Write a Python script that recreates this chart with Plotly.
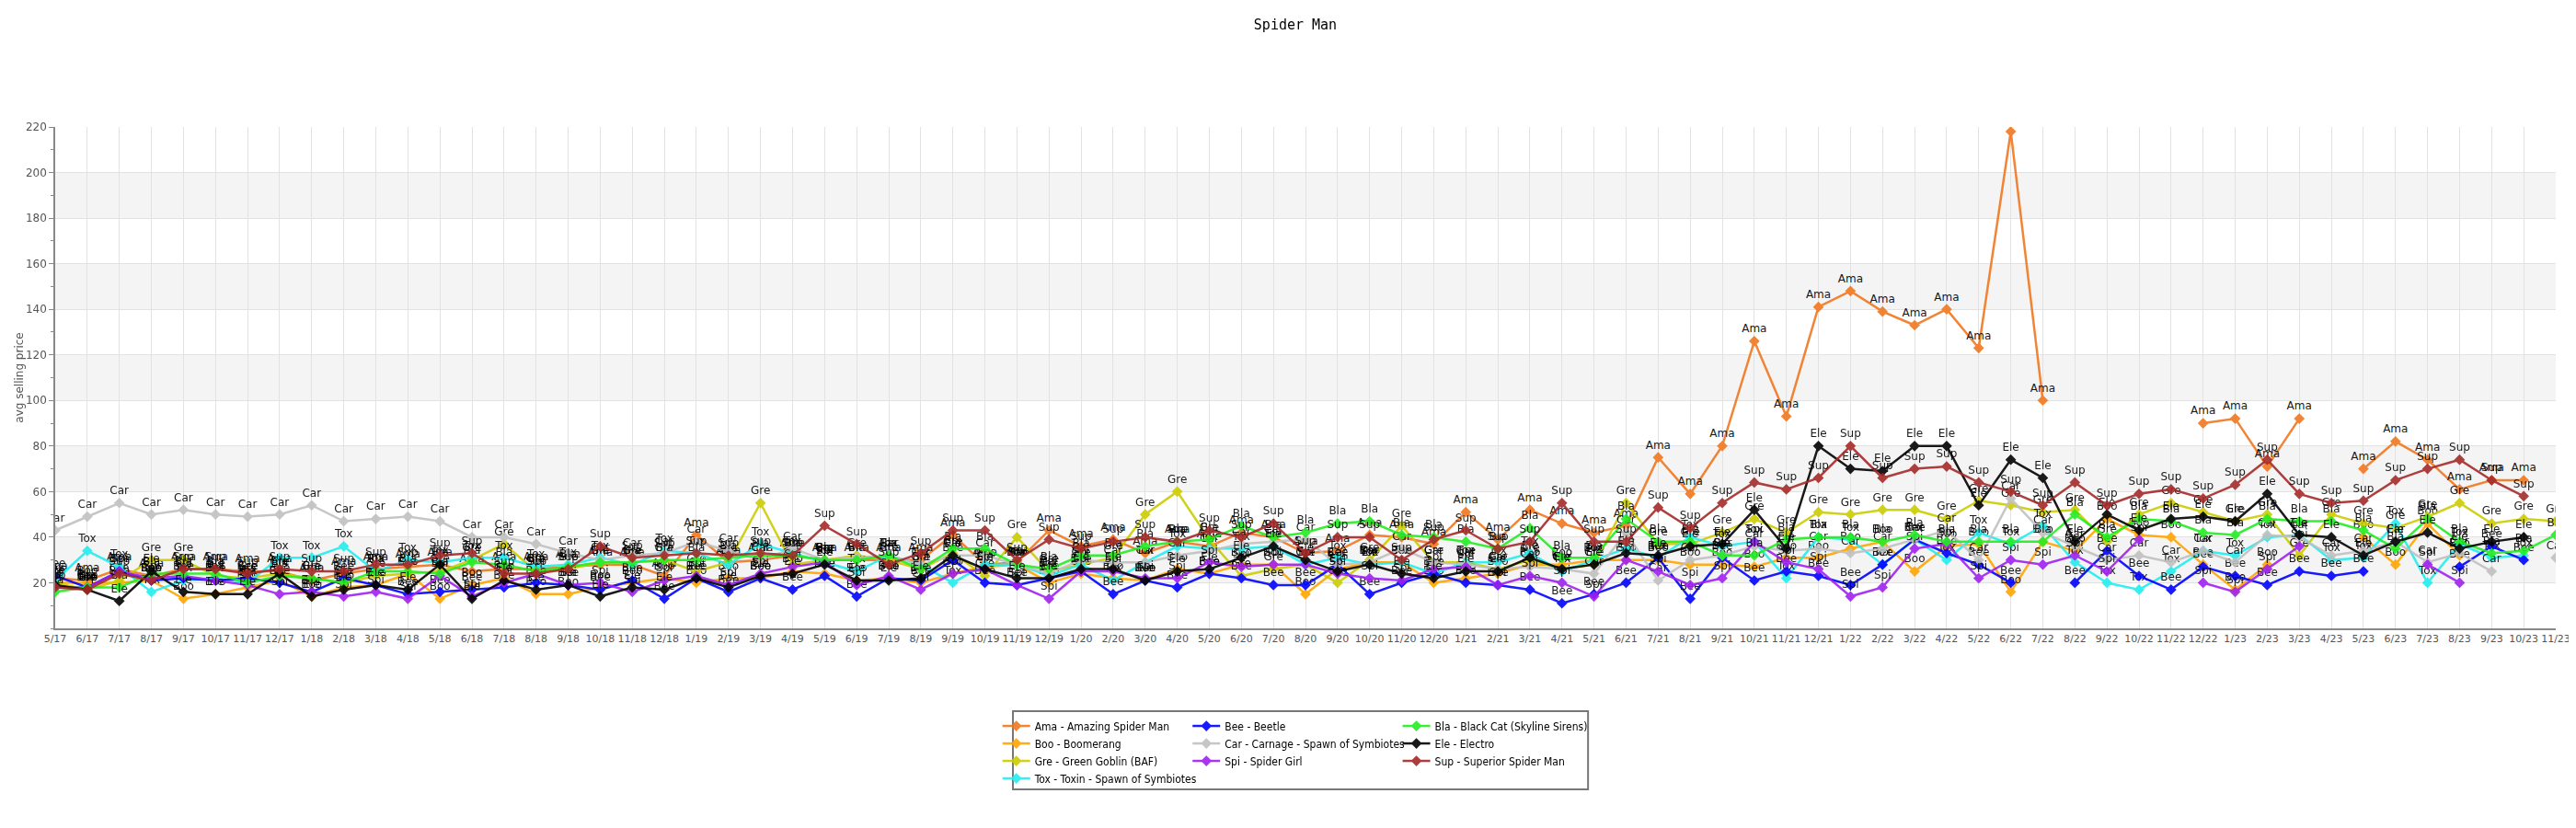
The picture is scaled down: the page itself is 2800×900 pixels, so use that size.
import plotly.graph_objects as go

months = []
for y in range(17, 24):
    for m in range(1, 13):
        if (y == 17 and m < 5) or (y == 23 and m > 11):
            continue
        months.append(f"{m}/{y}")

N = None
ama = [22,21,26,23,26,26,25,25,
       21,24,26,27,28,25,26,26,27,28,28,23,
       41,29,30,32,30,30,30,30,41,28,29,43,
       36,39,33,38,36,42,40,33,34,41,40,37,
       51,39,52,46,42,45,75,59,80,126,93,141,
       148,139,133,140,123,218,100,N,N,N,N,90,
       92,71,92,N,70,82,74,61,65,65,N]
bee = [23,18,25,21,22,21,22,20,
       16,22,19,15,16,17,18,20,19,17,21,13,
       22,16,22,17,23,14,22,21,30,20,19,22,
       25,15,21,18,24,22,19,19,28,15,20,24,
       20,19,17,11,15,20,31,13,31,21,25,23,
       19,28,39,33,28,20,N,20,34,23,17,27,
       23,19,25,23,25,N,N,27,36,30,N]
bla = [16,18,18,24,24,24,20,23,
       22,20,25,25,24,29,28,25,27,29,29,30,
       30,31,32,32,30,30,32,26,35,35,28,26,
       32,32,36,38,39,45,40,42,46,47,41,40,
       38,35,44,31,31,48,38,38,32,32,39,40,
       40,38,41,38,38,38,38,50,40,48,47,42,
       41,48,47,47,43,35,48,38,33,34,41]
boo = [20,20,20,21,13,15,18,21,
       14,18,19,24,13,19,22,15,15,18,20,22,
       20,22,22,25,24,21,22,20,24,27,28,20,
       24,22,21,26,24,28,28,15,26,29,29,20,
       22,24,28,28,30,30,30,28,28,27,31,31,
       35,38,25,36,37,16,38,34,48,41,40,28,
       17,28,N,N,40,28,46,32,N,N,N]
car = [43,49,55,50,52,50,49,50,
       54,47,48,49,47,40,40,37,33,30,32,33,
       38,34,30,35,30,31,32,28,32,32,28,24,
       30,29,29,32,34,37,38,39,28,29,35,29,
       28,26,27,26,24,42,21,30,32,36,34,35,
       33,35,39,43,30,57,42,36,30,32,29,34,
       29,41,40,32,34,38,29,33,25,N,31]
ele = [19,17,12,25,16,15,15,24,
       14,17,19,17,28,13,21,17,19,14,18,17,
       22,18,23,24,28,21,21,22,32,26,22,22,
       26,26,21,25,26,31,36,30,25,28,24,22,
       25,25,31,26,28,33,32,36,37,52,35,80,
       70,69,80,80,54,74,66,38,50,43,48,49,
       47,59,41,40,32,38,42,35,38,40,N]
gre = [20,17,21,30,30,23,22,24,
       22,20,23,24,25,30,37,25,26,29,29,30,
       25,29,55,28,30,32,30,26,33,23,40,25,
       28,31,50,60,39,23,26,28,20,30,45,29,
       29,26,30,26,28,55,37,37,42,48,42,51,
       50,52,52,48,56,54,51,52,38,50,55,51,
       47,50,32,50,46,44,49,55,46,48,47]
spi = [18,18,25,22,23,21,19,15,
       16,14,16,13,23,14,20,24,19,20,16,21,
       23,19,24,27,29,19,23,17,24,26,19,13,
       25,25,22,22,29,27,28,28,24,22,21,26,
       27,19,23,20,14,30,25,19,22,38,29,26,
       14,18,35,37,22,30,28,32,25,39,N,20,
       16,26,36,N,N,N,28,20,N,N,N]
sup = [18,17,24,21,26,26,24,26,
       25,25,28,28,32,33,24,24,26,36,31,32,
       33,32,33,32,45,37,28,33,43,43,30,39,
       35,38,40,38,43,40,46,33,40,40,30,39,
       43,35,38,55,38,38,53,44,55,64,61,66,
       80,66,70,71,64,60,54,64,54,59,61,57,
       63,74,59,55,56,65,70,74,65,58,N]
tox = [21,34,27,16,21,22,20,31,
       31,36,25,30,29,31,31,27,28,31,28,34,
       33,28,37,33,29,25,32,28,20,28,28,23,
       28,21,29,36,35,35,36,28,31,28,29,24,
       29,29,33,25,30,35,31,40,36,38,22,40,
       39,28,39,30,42,37,45,29,20,17,25,34,
       32,40,41,30,31,46,20,37,31,32,N]

# (abbrev, legend name, values, colour, legend column)
series = [
    ("Ama", "Ama - Amazing Spider Man", ama, "#f07820", "legend"),
    ("Boo", "Boo - Boomerang", boo, "#ffa500", "legend"),
    ("Gre", "Gre - Green Goblin (BAF)", gre, "#cccc00", "legend"),
    ("Tox", "Tox - Toxin - Spawn of Symbiotes", tox, "#22eeee", "legend"),
    ("Bee", "Bee - Beetle", bee, "#0000ff", "legend2"),
    ("Car", "Car - Carnage - Spawn of Symbiotes", car, "#c0c0c0", "legend2"),
    ("Spi", "Spi - Spider Girl", spi, "#a020f0", "legend2"),
    ("Bla", "Bla - Black Cat (Skyline Sirens)", bla, "#22ee22", "legend3"),
    ("Ele", "Ele - Electro", ele, "#000000", "legend3"),
    ("Sup", "Sup - Superior Spider Man", sup, "#a52a2a", "legend3"),
]

fig = go.Figure()
for ab, name, vals, col, lg in series:
    fig.add_trace(go.Scatter(
        x=list(range(len(months))), y=vals, name=name, mode="lines+markers+text", legend=lg,
        text=[ab if v is not None else "" for v in vals], textposition="top center",
        textfont=dict(size=12, color="black", family="DejaVu Sans"),
        line=dict(color=col, width=2.5), opacity=0.9,
        marker=dict(symbol="diamond", size=9, color=col)))

shapes = []
for lo in (20, 60, 100, 140, 180):
    shapes.append(dict(type="rect", xref="paper", yref="y", x0=0, x1=1, y0=lo, y1=lo + 20,
                       fillcolor="#f4f4f4", line=dict(width=0), layer="below"))
shapes.append(dict(type="rect", xref="paper", yref="paper", x0=0.383, x1=0.613, y0=-0.321, y1=-0.165,
                   line=dict(color="#777", width=2), fillcolor="rgba(0,0,0,0)"))

lfont = dict(size=12, family="DejaVu Sans Condensed, DejaVu Sans", color="black")
common = dict(yanchor="top", xanchor="left", y=-0.168, font=lfont, bgcolor="rgba(0,0,0,0)",
              tracegroupgap=0, itemwidth=30, itemsizing="trace")
fig.update_layout(
    width=2800, height=900, paper_bgcolor="white", plot_bgcolor="white",
    margin=dict(l=35, r=30, t=130, b=225),
    title=dict(text="Spider Man", x=0.5, y=0.985, yanchor="top",
               font=dict(family="DejaVu Sans Mono", size=15, color="black")),
    shapes=shapes, showlegend=True,
    legend=dict(x=0.377, **common),
    legend2=dict(x=0.453, **common),
    legend3=dict(x=0.537, **common),
    font=dict(family="DejaVu Sans"),
)
fig.update_xaxes(range=[0, 78], tickmode="array", tickvals=list(range(len(months))), ticktext=months,
                 tickangle=0, showgrid=True, gridcolor="#e2e2e2", showline=True, linecolor="#888", linewidth=1.5,
                 tickfont=dict(size=11, color="#555"), zeroline=False)
fig.update_yaxes(range=[0, 220], tickvals=list(range(20, 221, 20)), showgrid=True, gridcolor="#e2e2e2",
                 showline=True, linecolor="#888", linewidth=1.5, ticks="outside", ticklen=5, tickcolor="#888",
                 minor=dict(ticks="outside", ticklen=3, dtick=10, tickcolor="#888", showgrid=False),
                 tickfont=dict(size=12, color="#555"), zeroline=False,
                 title=dict(text="avg selling price", font=dict(size=12, color="#555"), standoff=0))

fig.write_html("out.html")
